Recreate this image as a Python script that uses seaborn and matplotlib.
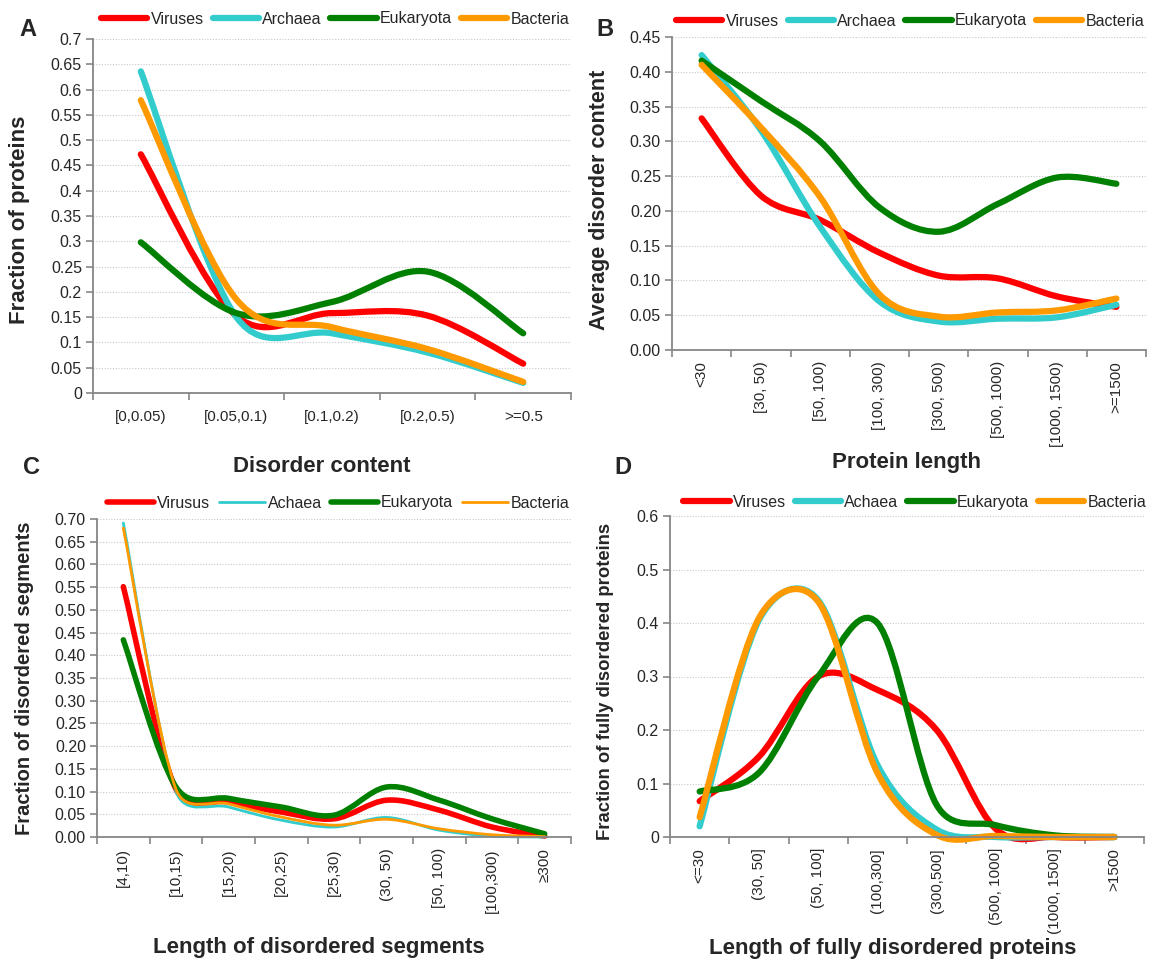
import numpy as np
import matplotlib
matplotlib.use("Agg")
import matplotlib.pyplot as plt
from matplotlib.path import Path
from matplotlib.patches import PathPatch
from matplotlib.lines import Line2D
import seaborn as sns

# ---- data ----
a_cats = ["[0,0.05)", "[0.05,0.1)", "[0.1,0.2)", "[0.2,0.5)", ">=0.5"]
a_viruses = [0.472, 0.152, 0.158, 0.153, 0.058]
a_archaea = [0.636, 0.150, 0.118, 0.080, 0.020]
a_eukaryota = [0.298, 0.158, 0.180, 0.240, 0.118]
a_bacteria = [0.579, 0.185, 0.130, 0.087, 0.022]

b_cats = ["<30", "[30, 50)", "[50, 100)", "[100, 300)", "[300, 500)",
          "[500, 1000)", "[1000, 1500)", ">=1500"]
b_viruses = [0.333, 0.222, 0.187, 0.140, 0.107, 0.103, 0.077, 0.062]
b_archaea = [0.424, 0.316, 0.177, 0.070, 0.041, 0.045, 0.047, 0.065]
b_eukaryota = [0.416, 0.358, 0.300, 0.205, 0.170, 0.210, 0.248, 0.239]
b_bacteria = [0.410, 0.320, 0.220, 0.080, 0.048, 0.054, 0.057, 0.074]

c_cats = ["[4,10)", "[10,15)", "[15,20)", "[20,25)", "[25,30)", "(30, 50)",
          "[50, 100)", "[100,300)", "\u2265300"]
c_viruses = [0.551, 0.105, 0.077, 0.055, 0.040, 0.081, 0.059, 0.022, 0.002]
c_archaea = [0.691, 0.100, 0.066, 0.037, 0.022, 0.043, 0.015, 0.002, 0.000]
c_eukaryota = [0.434, 0.110, 0.085, 0.066, 0.048, 0.110, 0.081, 0.040, 0.007]
c_bacteria = [0.680, 0.105, 0.073, 0.044, 0.026, 0.039, 0.018, 0.005, 0.001]

d_cats = ["<=30", "(30, 50]", "(50, 100]", "(100,300]", "(300,500]",
          "(500, 1000]", "(1000, 1500]", ">1500"]
d_viruses = [0.067, 0.150, 0.300, 0.275, 0.200, 0.015, 0.0, 0.0]
d_archaea = [0.020, 0.405, 0.443, 0.135, 0.014, 0.0, 0.0, 0.0]
d_eukaryota = [0.085, 0.120, 0.300, 0.400, 0.060, 0.022, 0.003, 0.0]
d_bacteria = [0.037, 0.409, 0.440, 0.120, 0.004, 0.002, 0.0, 0.0]

names_ab = ["Viruses", "Archaea", "Eukaryota", "Bacteria"]
names_c = ["Virusus", "Achaea", "Eukaryota", "Bacteria"]
names_d = ["Viruses", "Achaea", "Eukaryota", "Bacteria"]

sns.set_theme(style="white")
plt.rcParams["font.family"] = ["Liberation Sans", "DejaVu Sans"]
colors = sns.color_palette(["#FF0000", "#33CCCC", "#008000", "#FF9900"])
axis_grey = "#868686"

W, H = 1149, 961
fig = plt.figure(figsize=(W / 100, H / 100), dpi=100)


def smooth_path(y, sx, sy):
    # Excel style smoothed line: bezier through every point, control arms
    # capped at half the segment length (worked out in pixel units)
    pts = np.column_stack([np.arange(len(y), dtype=float) * sx, np.asarray(y) * sy])
    n = len(pts)
    verts, codes = [pts[0]], [Path.MOVETO]
    for i in range(n - 1):
        p0, p1 = pts[max(i - 1, 0)], pts[i]
        p2, p3 = pts[i + 1], pts[min(i + 2, n - 1)]
        d12 = np.hypot(*(p2 - p1))
        d02 = np.hypot(*(p2 - p0))
        d13 = np.hypot(*(p3 - p1))
        f = 1 / 6 if d02 / 6 < d12 / 2 else d12 / 2 / d02
        g = 1 / 6 if d13 / 6 < d12 / 2 else d12 / 2 / d13
        verts += [p1 + f * (p2 - p0), p2 - g * (p3 - p1), p2]
        codes += [Path.CURVE4] * 3
    verts = np.array(verts) / [sx, sy]
    return Path(verts, codes)


def panel(rect, cats, series, names, widths, ymax, ystep, yfmt, rot,
          xlabel, xl_pos, ylabel, yl_pos, yl_size, leg_anchor, xpad):
    wpx, hpx = rect[1] - rect[0], rect[3] - rect[2]
    ax = fig.add_axes([rect[0] / W, 1 - rect[3] / H, wpx / W, hpx / H])
    n = len(cats)
    for y, c, lw in zip(series, colors, widths):
        ax.add_patch(PathPatch(smooth_path(y, wpx / n, hpx / ymax), fill=False,
                               edgecolor=c, lw=lw, capstyle="round",
                               joinstyle="round", clip_on=False))
    ax.set_xlim(-0.5, n - 0.5)
    ax.set_ylim(0, ymax)
    yt = np.round(np.arange(0, ymax + ystep / 2, ystep), 3)
    ax.set_yticks(yt)
    ax.set_yticklabels([yfmt(v) for v in yt], fontsize=11.5)
    ax.set_xticks(range(n))
    ax.set_xticklabels(cats, fontsize=11, rotation=rot)
    ax.set_xticks(np.arange(n + 1) - 0.5, minor=True)
    ax.tick_params(axis="x", which="major", length=0, pad=xpad)
    ax.tick_params(axis="x", which="minor", length=5, width=1.2, color=axis_grey, bottom=True)
    ax.tick_params(axis="y", length=5, width=1.2, color=axis_grey, left=True, pad=3)
    ax.yaxis.grid(True, linestyle=(0, (1, 1.5)), color="#C8C8C8", lw=0.8)
    ax.set_axisbelow(True)
    sns.despine(ax=ax)
    for s in ["left", "bottom"]:
        ax.spines[s].set_color(axis_grey)
        ax.spines[s].set_linewidth(1.3)
    ax.set_xlabel(xlabel, fontsize=16, fontweight="bold")
    ax.xaxis.set_label_coords(*xl_pos)
    ax.xaxis.label.set_va("center")
    ax.set_ylabel(ylabel, fontsize=yl_size, fontweight="bold")
    ax.yaxis.set_label_coords(*yl_pos)
    ax.yaxis.label.set_va("center")
    handles = [Line2D([], [], color=c, lw=lw, solid_capstyle="round")
               for c, lw in zip(colors, widths)]
    fig.legend(handles, names, loc="center right",
               bbox_to_anchor=(leg_anchor[0] / W, 1 - leg_anchor[1] / H),
               ncol=4, frameon=False, fontsize=11.5, handlelength=2.9,
               handletextpad=0.2, columnspacing=0.55, borderpad=0, borderaxespad=0)
    return ax


def fmt_g(v):
    return f"{v:g}"


def fmt_2(v):
    return f"{v:.2f}"


thick = [4.5, 4.5, 4.5, 4.5]
panel((93, 571, 39, 393), a_cats, [a_viruses, a_archaea, a_eukaryota, a_bacteria],
      names_ab, thick, 0.7, 0.05, fmt_g, 0, "Disorder content", (0.479, -0.209),
      "Fraction of proteins", (-0.153, 0.489), 16, (569, 19), 12)
panel((672, 1146, 37, 350), b_cats, [b_viruses, b_archaea, b_eukaryota, b_bacteria],
      names_ab, thick, 0.45, 0.05, fmt_2, 90, "Protein length", (0.494, -0.358),
      "Average disorder content", (-0.152, 0.479), 15.5, (1144, 21), 8)
panel((97, 571, 519, 837), c_cats, [c_viruses, c_archaea, c_eukaryota, c_bacteria],
      names_c, [4.0, 2.0, 4.0, 2.0], 0.70, 0.05, fmt_2, 90,
      "Length of disordered segments", (0.468, -0.346),
      "Fraction of disordered segments", (-0.154, 0.5), 14.5, (570, 503), 8)
panel((670, 1144, 516, 837), d_cats, [d_viruses, d_archaea, d_eukaryota, d_bacteria],
      names_d, thick, 0.6, 0.1, fmt_g, 90,
      "Length of fully disordered proteins", (0.47, -0.346),
      "Fraction of fully disordered proteins", (-0.137, 0.486), 13.3, (1146, 502), 8)

for letter, x, y in [("A", 28, 30), ("B", 605, 30), ("C", 32, 467), ("D", 623, 467)]:
    fig.text(x / W, 1 - y / H, letter, fontsize=17, fontweight="bold",
             ha="center", va="center")

fig.savefig("out.png", dpi=100)
